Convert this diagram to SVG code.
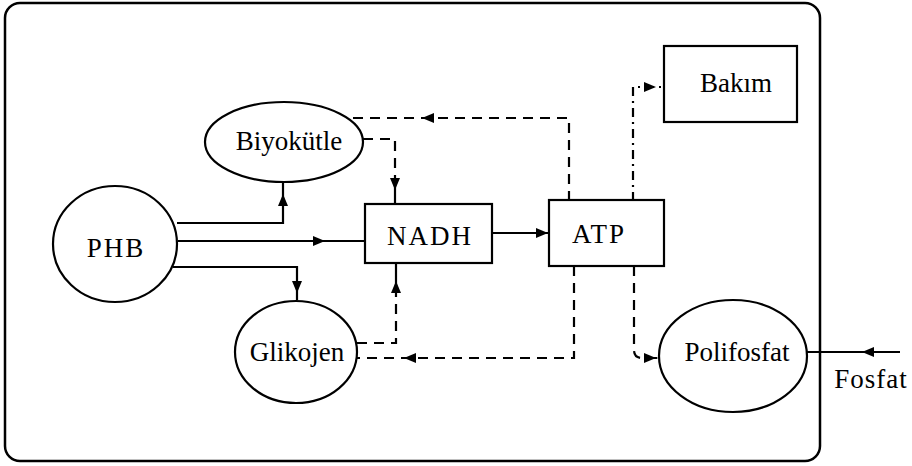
<svg xmlns="http://www.w3.org/2000/svg" width="912" height="466" viewBox="0 0 912 466">
<style>
.frame{fill:#fff;stroke:#000;stroke-width:2.5}
.node{fill:#fff;stroke:#000;stroke-width:2.2}
.lbl{font-family:"Liberation Serif","DejaVu Serif",serif;font-size:27px;fill:#000;text-anchor:middle}
.caps{letter-spacing:2px}
.solid{fill:none;stroke:#000;stroke-width:2.2}
.dash{fill:none;stroke:#000;stroke-width:2.2;stroke-dasharray:10 7}
.dashdot{fill:none;stroke:#000;stroke-width:2.2;stroke-dasharray:9 5 2 5}
.ah{fill:#000}
</style>
<defs>
<path id="ah" d="M0,0 L-12,-5 L-12,5 Z"/>
</defs>
<rect class="frame" x="5" y="3" width="815" height="458" rx="15" ry="15"/>
<g id="connectors">
<path class="solid" d="M177,223 H283 V182"/>
<use href="#ah" class="ah" transform="translate(283,194) rotate(-90)"/>
<path class="solid" d="M178,241 H365"/>
<use href="#ah" class="ah" transform="translate(325,241)"/>
<path class="solid" d="M173,267 H297 V300"/>
<use href="#ah" class="ah" transform="translate(297,293) rotate(90)"/>
<path class="solid" d="M492,233 H549"/>
<use href="#ah" class="ah" transform="translate(548,233)"/>
<path class="dash" d="M363,139 H395 V178"/>
<path class="solid" d="M395,178 V204"/>
<use href="#ah" class="ah" transform="translate(395,190) rotate(90)"/>
<path class="dash" d="M357,343 H396 V292"/>
<path class="solid" d="M396,292 V263"/>
<use href="#ah" class="ah" transform="translate(396,281) rotate(-90)"/>
<path class="dash" d="M569,201 V118 H345"/>
<use href="#ah" class="ah" transform="translate(422,118) rotate(180)"/>
<path class="dash" d="M574,266 V358 H357"/>
<use href="#ah" class="ah" transform="translate(404,358) rotate(180)"/>
<path class="dashdot" d="M633,201 V87 H664"/>
<use href="#ah" class="ah" transform="translate(656,87)"/>
<path class="dash" d="M634,266 V350 Q634,358 642,358 H660"/>
<use href="#ah" class="ah" transform="translate(656,358)"/>
<path class="solid" d="M900,352 H807"/>
<use href="#ah" class="ah" transform="translate(862,352) rotate(180)"/>
</g>
<g id="phb">
<ellipse class="node" cx="115" cy="244" rx="62" ry="58"/>
<text class="lbl caps" x="116" y="257">PHB</text>
</g>
<g id="biyokutle">
<ellipse class="node" cx="284" cy="142" rx="79" ry="40"/>
<text class="lbl" x="289" y="150">Biyokütle</text>
</g>
<g id="glikojen">
<ellipse class="node" cx="296" cy="352" rx="61" ry="51"/>
<text class="lbl" x="297" y="361">Glikojen</text>
</g>
<g id="nadh">
<rect class="node" x="365" y="204" width="127" height="59"/>
<text class="lbl caps" x="430" y="245">NADH</text>
</g>
<g id="atp">
<rect class="node" x="549" y="200" width="115" height="66"/>
<text class="lbl caps" x="599" y="243">ATP</text>
</g>
<g id="bakim">
<rect class="node" x="664" y="46" width="133" height="76"/>
<text class="lbl" x="736" y="92">Bakım</text>
</g>
<g id="polifosfat">
<ellipse class="node" cx="733" cy="356" rx="74" ry="56"/>
<text class="lbl" x="737" y="361">Polifosfat</text>
</g>
<g id="fosfat">
<text class="lbl" x="871" y="388" style="letter-spacing:1px">Fosfat</text>
</g>
</svg>
